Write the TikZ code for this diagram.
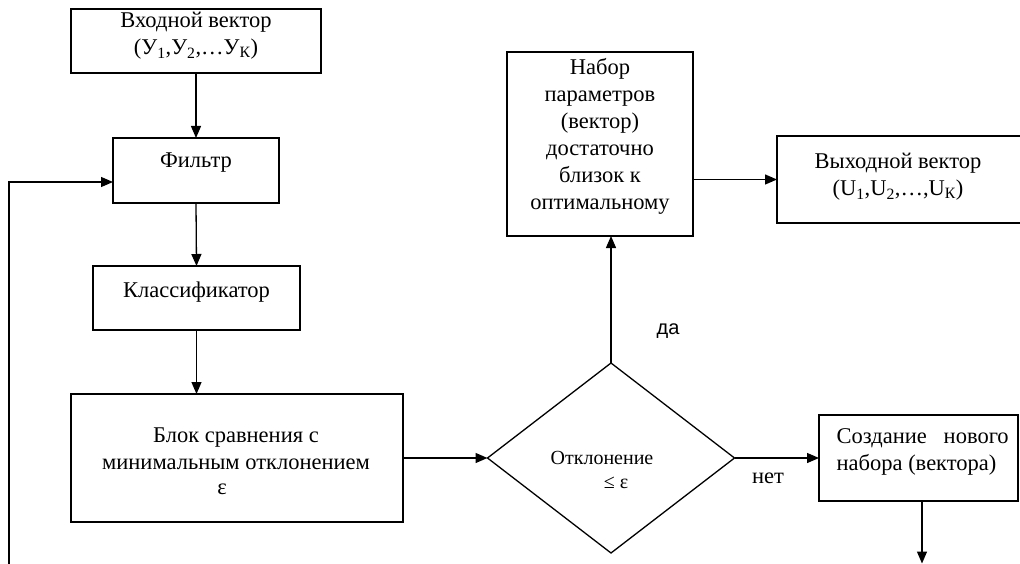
\documentclass[tikz,border=0pt]{standalone}
\usepackage{fontspec}
\setmainfont{Liberation Serif}
\newfontfamily\labelsans{Liberation Sans}
\usetikzlibrary{arrows.meta,shapes.geometric}

\begin{document}
\begin{tikzpicture}[x=1pt,y=-1pt,
  line width=1.3pt,
  box/.style={draw, rectangle, inner sep=0pt, outer sep=0pt},
  decision/.style={draw, diamond, inner sep=0pt, outer sep=0pt},
  txt/.style={font=\fontsize{22.5}{27}\selectfont, inner sep=0pt, align=center},
  smalltxt/.style={font=\fontsize{20}{26}\selectfont, inner sep=0pt},
  flow/.style={-{Triangle[length=12pt,width=10pt]}},
]
\path[use as bounding box, clip] (0,0) rectangle (1020,564);

% boxes
\node[box, minimum width=250pt, minimum height=64pt]  (in)   at (196,41) {};
\node[box, minimum width=166pt, minimum height=65pt]  (filt) at (196,170.5) {};
\node[box, minimum width=207pt, minimum height=64pt]  (cls)  at (196.5,298) {};
\node[box, minimum width=332pt, minimum height=128pt] (cmp)  at (237,458) {};
\node[decision, minimum width=247pt, minimum height=190pt] (dec) at (611,458) {};
\node[box, minimum width=186pt, minimum height=184pt] (par)  at (600,144) {};
\node[box, minimum width=253pt, minimum height=87pt]  (out)  at (903.5,179.5) {};
\node[box, minimum width=199pt, minimum height=86pt]  (new)  at (918.5,458) {};

% texts
\node[txt] (inT) at (196,36) {Входной вектор\\(У\textsubscript{1},У\textsubscript{2},\dots У\textsubscript{К})};
\node[txt] (filtT) at (196,163) {Фильтр};
\node[txt] (clsT) at (196.5,292) {Классификатор};
\node[txt] (cmpT) at (236,449) {Блок сравнения с\\минимальным отклонением};
\node[txt] (epsT) at (222,489) {ε};
\node[smalltxt] (decT) at (602,458) {Отклонение};
\node[smalltxt] (decT2) at (616,483) {≤ ε};
\node[txt] (parT) at (600,136) {Набор\\параметров\\(вектор)\\достаточно\\близок к\\оптимальному};
\node[txt] (outT) at (898,177) {Выходной вектор\\(U\textsubscript{1},U\textsubscript{2},\dots,U\textsubscript{К})};
\node[txt, align=left, anchor=west] (newT) at (836,452) {\makebox[172pt][l]{Создание\hfill нового}\\набора (вектора)};
\node[font=\labelsans\fontsize{20}{24}\selectfont, inner sep=0pt] (yes) at (668,331) {да};
\node[txt] (no) at (768,478) {нет};

% connectors
\draw[flow] (in.south -| filt.north) -- (filt.north);
\draw[flow] (filt.south) -- (cls.north);
\draw[flow] (cls.south) -- (cls.south |- cmp.north);
\draw[flow] (cmp.east) -- (dec.west);
\draw[flow] (dec.north) -- (dec.north |- par.south);
\draw[flow] (par.east |- out.west) -- (out.west);
\draw[flow] (dec.east) -- (new.west);
\coordinate (newEnd) at (922,563.5);
\draw[flow] (new.south -| newEnd) -- (newEnd);
\coordinate (loopStart) at (9,570);
\coordinate (loopTurn) at (9,182);
\draw[flow] (loopStart) -- (loopTurn) -- (loopTurn -| filt.west);
\end{tikzpicture}
\end{document}
